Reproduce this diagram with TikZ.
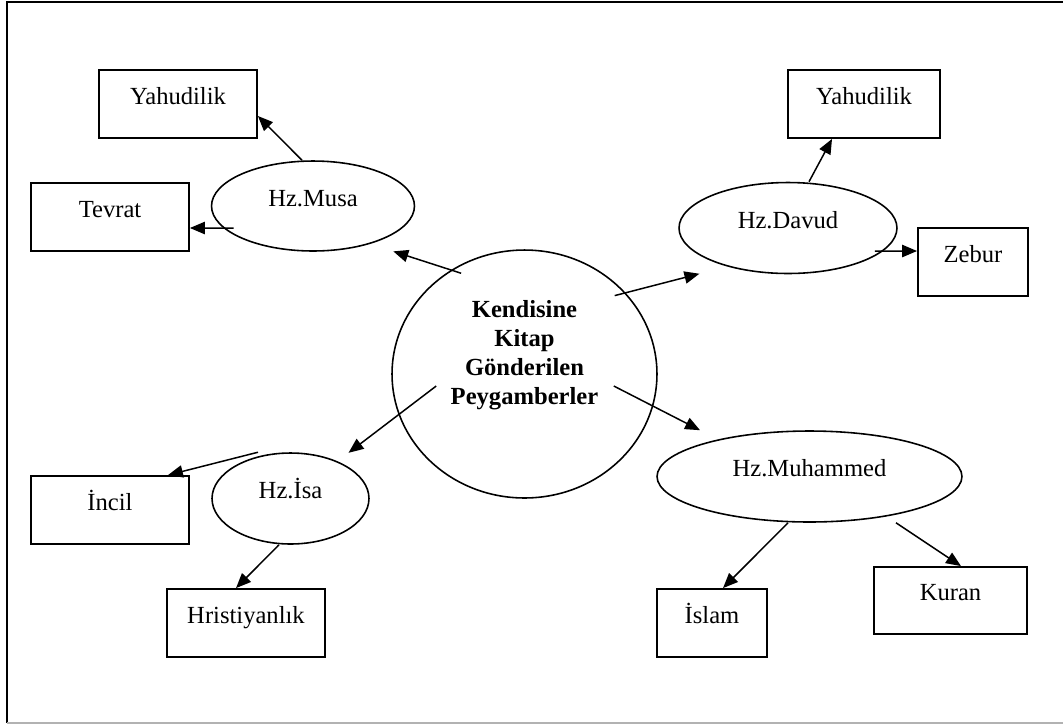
\documentclass[tikz,border=0pt]{standalone}
\usepackage{fontspec}
\setmainfont{Liberation Serif}
\usetikzlibrary{shapes.geometric,arrows.meta}

\tikzset{
	yazi/.style={font=\fontsize{14}{16.5}\selectfont},
	kutu/.style={yazi, draw, line width=1.05pt, inner sep=0pt, text height=.5em, text depth=.5em, minimum height=1.36cm},
	elips/.style={yazi, draw, ellipse, line width=.9pt, inner sep=0pt, text height=.5em, text depth=.5em, minimum height=1.8cm},
	ok/.style={line width=.85pt, -{Triangle[length=8.5pt,width=7pt]}}
}

\begin{document}
\begin{tikzpicture}[x=0.02cm,y=-0.02cm]
	\useasboundingbox (0,0) rectangle (1063,725);
	% cerceve
	\draw[line width=1.2pt] (1063,2) -- (7,2) -- (7,723);
	\draw[line width=1.1pt, gray!60] (7,723) -- (1063,723);

	% orta
	\node[draw, ellipse, line width=.9pt, minimum width=5.3cm, minimum height=4.96cm] (kitap) at (524.5,374) {};
	\node[yazi, font=\fontsize{14}{16.5}\selectfont\bfseries, align=center] (baslik) at (524.5,355) {Kendisine\\Kitap\\G\"onderilen\\Peygamberler};

	% peygamberler
	\node[elips, minimum width=4.06cm] (musa) at (313,206) {Hz.Musa};
	\node[elips, minimum width=4.36cm, minimum height=1.82cm] (davud) at (788,228) {Hz.Davud};
	\node[elips, minimum width=3.14cm, minimum height=1.82cm] (isa) at (290.5,498.5) {Hz.İsa};
	\node[elips, minimum width=6.1cm, minimum height=1.82cm] (muhammed) at (809.5,476.5) {Hz.Muhammed};

	% kitaplar ve dinler
	\node[kutu, minimum width=3.16cm] (yahudi1) at (178,104) {Yahudilik};
	\node[kutu, minimum width=3.16cm] (tevrat) at (110,217) {Tevrat};
	\node[kutu, minimum width=3.04cm] (yahudi2) at (864,104) {Yahudilik};
	\node[kutu, minimum width=2.2cm] (zebur) at (973,262) {Zebur};
	\node[kutu, minimum width=3.16cm] (incil) at (110,510) {İncil};
	\node[kutu, minimum width=3.16cm] (hristiyan) at (246,623) {Hristiyanlık};
	\node[kutu, minimum width=2.2cm] (islam) at (712,623) {İslam};
	\node[kutu, minimum width=3.06cm, minimum height=1.34cm] (kuran) at (950.5,600.5) {Kuran};

	% oklar
	\draw[ok] ([yshift=-.18cm]kitap.120) -- ([xshift=.16cm,yshift=-.26cm]musa.south east);
	\draw[ok] ([xshift=-.15cm,yshift=-.13cm]kitap.41) -- ([xshift=-.22cm,yshift=-.26cm]davud.south west);
	\draw[ok] ([xshift=.9cm,yshift=-.24cm]kitap.west) -- ([xshift=.04cm,yshift=.26cm]isa.north east);
	\draw[ok] ([xshift=-.88cm,yshift=-.24cm]kitap.east) -- ([xshift=-2.19cm]muhammed.north);

	\draw[ok] ([xshift=-.22cm]musa.north) -- ([yshift=-.24cm]yahudi1.east);
	\draw[ok] ([xshift=.46cm,yshift=-.44cm]musa.west) -- ([yshift=-.22cm]tevrat.east);
	\draw[ok] ([xshift=.42cm]davud.north) -- ([xshift=-.64cm]yahudi2.south);
	\draw[ok] ([xshift=-.46cm,yshift=-.46cm]davud.east) -- ([yshift=.22cm]zebur.west);
	\draw[ok] ([xshift=-.65cm]isa.north) -- ([xshift=1.16cm]incil.north);
	\draw[ok] ([xshift=-.23cm]isa.south) -- ([xshift=-.2cm]hristiyan.north);
	\draw[ok] ([xshift=-.43cm]muhammed.south) -- ([xshift=.22cm]islam.north);
	\draw[ok] ([xshift=1.73cm]muhammed.south) -- ([xshift=.21cm]kuran.north);
\end{tikzpicture}
\end{document}
